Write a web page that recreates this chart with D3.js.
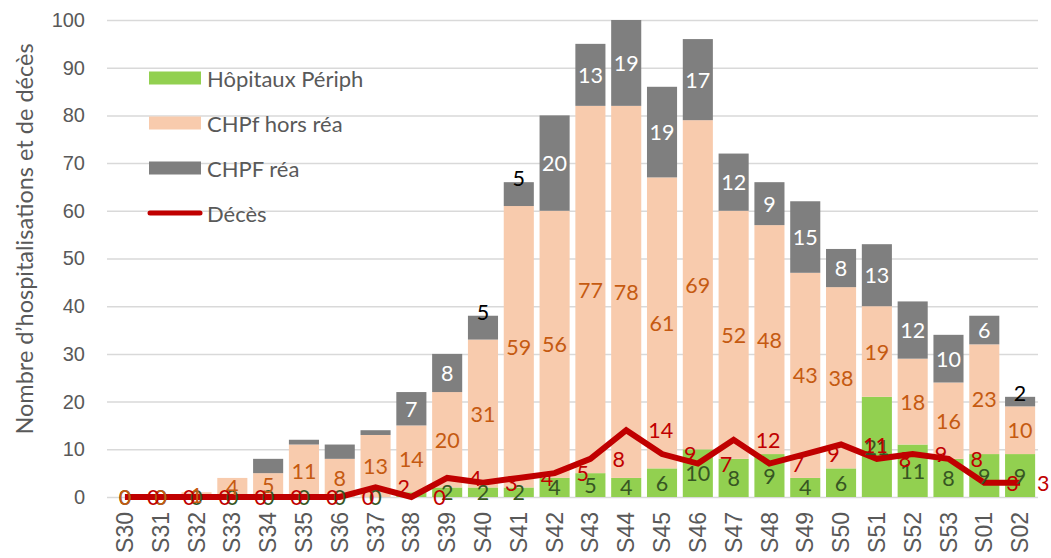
<!DOCTYPE html>
<html>
<head>
<meta charset="utf-8">
<script src="https://cdn.jsdelivr.net/npm/d3@7"></script>
<style>
    body { margin: 0; background: #fff; }
    svg { display: block; font-family: Lato, "Open Sans", sans-serif; }
    .grid-line { stroke: #d9d9d9; stroke-width: 1.5; }
    .tick-label { fill: #595959; }
</style>
</head>
<body>
<div id="body"></div>
<script>
// semaines
const weeks = ['S30','S31','S32','S33','S34','S35','S36','S37','S38','S39','S40','S41','S42',
    'S43','S44','S45','S46','S47','S48','S49','S50','S51','S52','S53','S01','S02'];
// Hôpitaux Périph
const periph = [0,0,0,0,0,0,0,0,1,2,2,2,4,5,4,6,10,8,9,4,6,21,11,8,9,9];
// CHPf hors réa
const horsRea = [0,0,1,4,5,11,8,13,14,20,31,59,56,77,78,61,69,52,48,43,38,19,18,16,23,10];
// CHPF réa
const rea = [0,0,0,0,3,1,3,1,7,8,5,5,20,13,19,19,17,12,9,15,8,13,12,10,6,2];
// Décès
const deces = [0,0,0,0,0,0,0,2,0,4,3,4,5,8,14,9,7,12,7,9,11,8,9,8,3,3];
const yTicks = [0,10,20,30,40,50,60,70,80,90,100];
const reaLabelAbove = ['S40','S41','S02'];
const periphNoLabel = ['S38'];

class StackChart {
    constructor() {
        this._width = 1051;
        this._height = 558;
        this._margins = {left: 107, right: 13, top: 20, bottom: 61};
        this._scaleX = d3.scaleBand()
            .range([this._margins.left, this._width - this._margins.right])
            .paddingInner(0.16).paddingOuter(0.08);
        this._scaleY = d3.scaleLinear()
            .range([this._height - this._margins.bottom, this._margins.top]);
        this._series = [];
        this._svg = null;
    }
    render() {
        this._svg = d3.select('#body').append('svg')
            .attr('width', this._width)
            .attr('height', this._height);
        this.renderGrid();
        this.renderXAxis();
        this.renderTitle();
        this.renderBars();
        this.renderLine();
        this.renderLabels();
        this.renderLegend();
    }
    renderGrid() {
        let yAxis = d3.axisLeft(this._scaleY).tickValues(yTicks).tickSize(0).tickPadding(22);
        let g = this._svg.append('g')
            .attr('transform', `translate(${this._margins.left},0)`)
            .call(yAxis);
        g.select('.domain').remove();
        g.selectAll('.tick text').attr('class', 'tick-label').attr('font-size', 20).attr('fill', '#595959');
        g.selectAll('.tick').append('line')
            .attr('class', 'grid-line')
            .attr('x1', 0)
            .attr('x2', this._width - this._margins.right - this._margins.left);
    }
    renderXAxis() {
        let xAxis = d3.axisBottom(this._scaleX).tickSize(0).tickPadding(0);
        let g = this._svg.append('g')
            .attr('transform', `translate(0,${this._scaleY(0)})`)
            .call(xAxis);
        g.select('.domain').remove();
        g.selectAll('.tick text')
            .attr('font-size', 23)
            .attr('fill', '#595959')
            .attr('text-anchor', 'end')
            .attr('dy', '0.35em')
            .attr('transform', 'translate(0,15) rotate(-90)');
    }
    renderTitle() {
        this._svg.append('text')
            .attr('transform', 'translate(33,239) rotate(-90)')
            .attr('text-anchor', 'middle')
            .attr('font-size', 23.5)
            .attr('fill', '#595959')
            .text('Nombre d’hospitalisations et de décès');
    }
    renderBars() {
        this._svg.append('defs').append('clipPath')
            .attr('id', 'body-clip')
            .append('rect')
            .attr('x', 0)
            .attr('y', this._scaleY(100))
            .attr('width', this._width)
            .attr('height', this._scaleY(0) - this._scaleY(100));

        let stack = d3.stack().keys(this._series.map(s => s.key));
        let table = weeks.map((w, i) => {
            let row = {week: w};
            this._series.forEach(s => row[s.key] = s.values[i]);
            return row;
        });
        this._stacked = stack(table);
        let body = this._svg.append('g').attr('clip-path', 'url(#body-clip)');
        body.selectAll('g.layer')
            .data(this._stacked)
            .enter()
            .append('g')
            .attr('class', 'layer')
            .attr('fill', (d, i) => this._series[i].color)
            .selectAll('rect')
            .data(d => d)
            .enter()
            .append('rect')
            .attr('x', d => this._scaleX(d.data.week))
            .attr('y', d => this._scaleY(d[1]))
            .attr('width', this._scaleX.bandwidth())
            .attr('height', d => this._scaleY(d[0]) - this._scaleY(d[1]));
    }
    renderLine() {
        let line = d3.line()
            .x((d, i) => this.cx(weeks[i]))
            .y(d => this._scaleY(d));
        this._svg.append('path')
            .datum(deces)
            .attr('fill', 'none')
            .attr('stroke', '#c00000')
            .attr('stroke-width', 6)
            .attr('d', line);
    }
    renderLabels() {
        let g = this._svg.append('g').attr('font-size', 21.5);
        // Hôpitaux Périph
        this._stacked[0].filter(d => !periphNoLabel.includes(d.data.week)).forEach(d => {
            g.append('text')
                .attr('x', this.cx(d.data.week))
                .attr('y', this._scaleY((d[0] + d[1]) / 2))
                .attr('text-anchor', 'middle')
                .attr('dominant-baseline', 'central')
                .attr('fill', '#375623')
                .text(d[1] - d[0]);
        });
        // CHPf hors réa
        this._stacked[1].forEach(d => {
            g.append('text')
                .attr('x', this.cx(d.data.week))
                .attr('y', this._scaleY((d[0] + d[1]) / 2))
                .attr('text-anchor', 'middle')
                .attr('dominant-baseline', 'central')
                .attr('fill', '#c55a11')
                .text(d[1] - d[0]);
        });
        // CHPF réa
        this._stacked[2].forEach(d => {
            let v = d[1] - d[0];
            let top = Math.min(d[1], 100);
            if(v >= 6) {
                g.append('text')
                    .attr('x', this.cx(d.data.week))
                    .attr('y', this._scaleY((d[0] + top) / 2))
                    .attr('text-anchor', 'middle')
                    .attr('dominant-baseline', 'central')
                    .attr('fill', '#fff')
                    .text(v);
            } else if(reaLabelAbove.includes(d.data.week)) {
                g.append('text')
                    .attr('x', this.cx(d.data.week))
                    .attr('y', this._scaleY(top) - 4)
                    .attr('text-anchor', 'middle')
                    .attr('dominant-baseline', 'central')
                    .attr('fill', '#000')
                    .text(v);
            }
        });
        // Décès
        deces.forEach((v, i) => {
            g.append('text')
                .attr('x', Math.min(this.cx(weeks[i]) + 22, this._width - 14))
                .attr('y', this._scaleY(v))
                .attr('dominant-baseline', 'central')
                .attr('fill', '#c00000')
                .text(v);
        });
    }
    renderLegend() {
        let items = this._series.concat([{name: 'Décès', color: '#c00000', line: true}]);
        let legend = this._svg.append('g').attr('transform', 'translate(149,78)');
        let rows = legend.selectAll('g')
            .data(items)
            .enter()
            .append('g')
            .attr('transform', (d, i) => `translate(0,${i * 45})`);
        rows.filter(d => !d.line).append('rect')
            .attr('x', 0).attr('y', -6.5)
            .attr('width', 52).attr('height', 13)
            .attr('fill', d => d.color);
        rows.filter(d => d.line).append('line')
            .attr('x1', 1).attr('x2', 51)
            .attr('stroke', d => d.color)
            .attr('stroke-width', 5)
            .attr('stroke-linecap', 'round');
        rows.append('text')
            .attr('x', 58)
            .attr('dominant-baseline', 'central')
            .attr('font-size', 22)
            .attr('fill', '#595959')
            .text(d => d.name);
    }
    cx(w) {
        return this._scaleX(w) + this._scaleX.bandwidth() / 2;
    }
    series(s) {
        this._series = s;
        this._scaleX.domain(weeks);
        this._scaleY.domain([0, 100]);
        return this;
    }
}

let chart = new StackChart();
chart
    .series([
        {key: 'periph', name: 'Hôpitaux Périph', color: '#92d050', values: periph},
        {key: 'horsRea', name: 'CHPf hors réa', color: '#f8cbad', values: horsRea},
        {key: 'rea', name: 'CHPF réa', color: '#7f7f7f', values: rea}
    ])
    .render();
</script>
</body>
</html>
